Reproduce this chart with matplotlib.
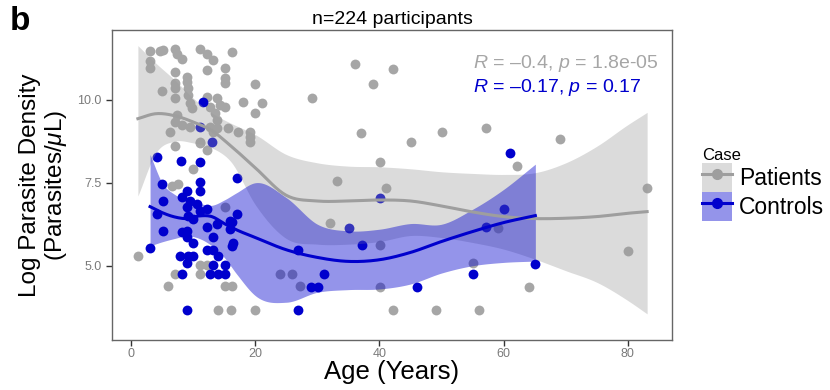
import numpy as np
import matplotlib
matplotlib.use('Agg')
import matplotlib.pyplot as plt
from matplotlib.patches import Patch
from matplotlib.lines import Line2D

plt.rcParams['font.family'] = ['Liberation Sans', 'DejaVu Sans']
plt.rcParams['mathtext.fontset'] = 'custom'
plt.rcParams['mathtext.rm'] = 'Liberation Sans'
plt.rcParams['mathtext.it'] = 'Liberation Sans:italic'

# patients (grey) - age vs log parasite density
patient_age = [3.06, 4.67, 5.15, 7.09, 7.41, 8.21, 11.11, 12.24, 13.2, 15.14, 16.26,
               3.06, 3.06, 7.09, 12.24, 9.02, 9.02, 7.09, 7.09, 4.99, 9.18, 9.18, 7.09,
               15.14, 15.14, 19.97, 18.04, 21.1, 19.97, 12.24, 13.85, 14.33, 15.14, 12.72,
               13.53, 9.5, 9.82, 13.85, 7.41, 7.09, 8.21, 6.28, 9.5, 12.72, 13.2, 13.85,
               15.62, 17.23, 19.16, 19.16, 11.11, 7.09, 11.11, 12.24, 19.16, 9.98, 6.6,
               7.57, 15.14, 1.13, 7.09, 5.96, 11.11, 12.24, 11.11, 15.14, 16.26, 14.0,
               16.1, 19.97, 24.0, 25.9, 27.2, 36.1, 42.2, 39.0, 29.1, 37.0, 50.1, 57.2,
               45.1, 69.1, 40.1, 62.2, 33.2, 41.1, 83.1, 32.0, 40.1, 80.0, 55.1, 59.1,
               40.1, 64.1, 42.2, 49.1, 56.0]
patient_density = [11.48, 11.48, 11.51, 11.54, 11.39, 11.24, 11.54, 11.39, 11.21, 10.97, 11.45,
                   11.18, 10.97, 10.85, 10.91, 10.68, 10.53, 10.50, 10.35, 10.26, 10.35, 10.14,
                   10.05, 10.65, 10.50, 10.47, 9.93, 9.90, 9.60, 10.08, 10.05, 9.84, 9.78, 9.78,
                   9.60, 9.90, 9.75, 9.40, 9.54, 9.34, 9.25, 9.04, 9.19, 9.19, 9.04, 9.16, 9.16,
                   9.04, 9.04, 8.89, 8.74, 8.62, 8.71, 8.50, 8.74, 7.91, 7.40, 7.46, 6.77, 5.29,
                   4.75, 4.40, 5.02, 5.02, 4.75, 4.40, 4.40, 3.68, 3.68, 3.68, 4.75, 4.75, 4.40,
                   11.09, 10.94, 10.47, 10.05, 9.01, 9.04, 9.16, 8.74, 8.83, 8.12, 8.0, 7.55,
                   7.34, 7.34, 6.30, 5.62, 5.44, 5.08, 6.15, 4.37, 4.37, 3.68, 3.68, 3.68]

# controls (blue)
control_age = [11.11, 13.04, 11.6, 4.19, 8.05, 11.11, 17.07, 4.99, 11.11, 11.11, 9.02, 8.21,
               5.15, 9.5, 10.63, 9.02, 12.24, 11.11, 4.19, 9.18, 9.98, 17.07, 12.24, 15.94,
               13.85, 5.15, 8.21, 9.02, 13.2, 15.94, 3.06, 9.98, 16.43, 7.89, 9.18, 9.98,
               9.02, 8.21, 12.24, 13.2, 14.0, 13.2, 15.14, 12.72, 14.0, 15.14, 9.02, 16.26,
               9.02, 26.9, 26.9, 16.3, 31.1, 29.0, 30.1, 35.1, 37.2, 40.1, 61.0, 60.1, 57.2,
               46.1, 55.1, 65.1]
control_density = [9.19, 8.74, 9.93, 8.29, 8.15, 8.12, 7.64, 7.46, 7.52, 7.25, 7.25, 7.07,
                   6.95, 6.95, 6.87, 6.77, 6.71, 6.66, 6.57, 6.51, 6.42, 6.57, 6.18, 6.36,
                   6.27, 6.06, 6.03, 6.06, 5.88, 6.12, 5.53, 5.68, 5.68, 5.29, 5.29, 5.29,
                   5.08, 4.75, 5.47, 5.47, 5.29, 5.02, 5.02, 4.75, 4.75, 4.75, 3.68, 5.59,
                   5.88, 5.47, 3.68, 6.33, 4.75, 4.37, 4.37, 6.15, 5.62, 7.04, 8.41, 6.71,
                   6.18, 4.37, 4.75, 5.05]

# loess fits + confidence bands
patient_fit_age = [1.1, 4, 7, 10, 13, 16, 20, 25, 30, 35, 40, 45, 50, 55, 60, 65, 70, 75, 80, 83.1]
patient_fit = [9.43, 9.58, 9.52, 9.33, 9.07, 8.62, 7.95, 7.12, 6.95, 6.95, 6.98, 6.95,
               6.80, 6.62, 6.48, 6.42, 6.43, 6.48, 6.58, 6.63]
patient_lower = [7.1, 8.4, 8.75, 8.7, 8.55, 8.15, 6.84, 5.82, 5.65, 5.65, 5.73, 5.91,
                 5.85, 5.7, 5.5, 5.2, 4.85, 4.5, 3.95, 3.55]
patient_upper = [11.63, 11.1, 10.6, 10.05, 9.6, 9.3, 8.95, 8.35, 8.1, 8.0, 7.98, 7.92,
                 7.83, 7.78, 7.75, 7.8, 8.1, 8.6, 9.25, 9.62]

control_fit_age = [3.06, 5, 7, 9, 11, 13, 15, 17, 20, 25, 30, 35, 40, 45, 50, 55, 60, 65.1]
control_fit = [6.78, 6.6, 6.47, 6.42, 6.5, 6.48, 6.27, 6.08, 5.85, 5.48, 5.25, 5.13, 5.18,
               5.4, 5.73, 6.03, 6.3, 6.51]
control_lower = [5.6, 5.72, 5.82, 5.9, 5.82, 5.6, 5.25, 4.75, 4.1, 3.9, 4.2, 4.28, 4.3,
                 4.45, 4.78, 5.0, 5.1, 5.14]
control_upper = [8.35, 7.5, 7.15, 6.98, 6.88, 6.82, 6.98, 7.2, 7.5, 7.05, 6.25, 6.05, 6.1,
                 6.27, 6.25, 6.7, 7.3, 8.06]

GREY = '#A6A6A6'
BLUE = '#0000CD'


def smooth(xs, ys, n=300):
    # cubic hermite through the read points so the curves aren't jagged
    xs = np.asarray(xs, float)
    ys = np.asarray(ys, float)
    m = np.gradient(ys, xs)
    xf = np.linspace(xs[0], xs[-1], n)
    i = np.clip(np.searchsorted(xs, xf) - 1, 0, len(xs) - 2)
    h = xs[i + 1] - xs[i]
    t = (xf - xs[i]) / h
    yf = ((2*t**3 - 3*t**2 + 1) * ys[i] + (t**3 - 2*t**2 + t) * h * m[i]
          + (-2*t**3 + 3*t**2) * ys[i + 1] + (t**3 - t**2) * h * m[i + 1])
    return xf, yf


fig = plt.figure(figsize=(8.3, 3.9), dpi=100)
ax = fig.add_axes([0.135, 0.128, 0.6746, 0.795])

ax.scatter(patient_age, patient_density, s=50, color=GREY, linewidths=0, zorder=2)
ax.scatter(control_age, control_density, s=50, color=BLUE, linewidths=0, zorder=2)

x, lo = smooth(patient_fit_age, patient_lower)
_, hi = smooth(patient_fit_age, patient_upper)
_, fit = smooth(patient_fit_age, patient_fit)
ax.fill_between(x, lo, hi, color='#999999', alpha=0.35, linewidth=0, zorder=3)
ax.plot(x, fit, color='#9E9E9E', lw=2.2, zorder=4)

x, lo = smooth(control_fit_age, control_lower)
_, hi = smooth(control_fit_age, control_upper)
_, fit = smooth(control_fit_age, control_fit)
ax.fill_between(x, lo, hi, color=BLUE, alpha=0.42, linewidth=0, zorder=3)
ax.plot(x, fit, color=BLUE, lw=2.2, zorder=4)

ax.text(55.1, 11.09, r'$\it{R}$ = –0.4, $\it{p}$ = 1.8e-05', color=GREY,
        fontsize=14, va='center', ha='left')
ax.text(55.1, 10.38, r'$\it{R}$ = –0.17, $\it{p}$ = 0.17', color=BLUE,
        fontsize=14, va='center', ha='left')

ax.set_xlim(-3.06, 87.1)
ax.set_ylim(2.76, 12.1)
ax.set_xticks([0, 20, 40, 60, 80])
ax.set_yticks([5.0, 7.5, 10.0])
ax.set_yticklabels(['5.0', '7.5', '10.0'])
ax.tick_params(colors='#333333', labelcolor='#7A7A7A', labelsize=9, length=4, width=1)
ax.tick_params(axis='x', pad=2)
for sp in ax.spines.values():
    sp.set_color('#666666')
    sp.set_linewidth(1)

ax.set_xlabel('Age (Years)', fontsize=18.5, labelpad=0)
ax.set_ylabel('Log Parasite Density\n(Parasites/$\\mu$L)', fontsize=17.5, labelpad=6,
              linespacing=1.1)
ax.set_title('n=224 participants', fontsize=14, pad=4)

fig.text(0.012, 0.985, 'b', fontsize=24, fontweight='bold', va='top', ha='left')

handles = [(Patch(facecolor='#999999', alpha=0.35, linewidth=0),
            Line2D([], [], color='#9E9E9E', lw=2.2, marker='o', ms=7)),
           (Patch(facecolor=BLUE, alpha=0.42, linewidth=0),
            Line2D([], [], color=BLUE, lw=2.2, marker='o', ms=7))]
leg = fig.legend(handles, ['Patients', 'Controls'], loc='upper left',
                 bbox_to_anchor=(0.846, 0.62), frameon=False, fontsize=16.5,
                 title='Case', title_fontsize=12, alignment='left',
                 handlelength=1.3, handleheight=1.55, handletextpad=0.3,
                 labelspacing=0.0, borderpad=0, borderaxespad=0)

fig.savefig('out.png', dpi=100)
